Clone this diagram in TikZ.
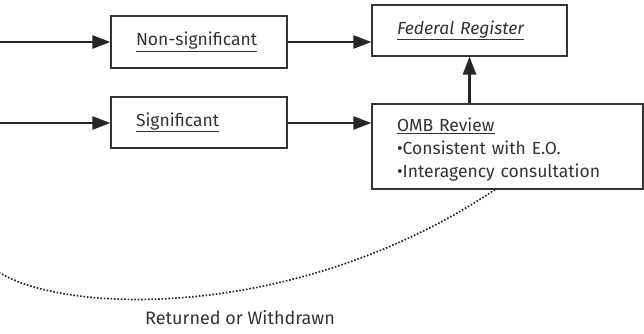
\documentclass[tikz,border=0pt]{standalone}
\usepackage{fontspec}
\setmainfont{Fira Sans}
\usepackage{tikz}
\usetikzlibrary{arrows.meta}
\definecolor{inkgray}{HTML}{333333}

\begin{document}
\begin{tikzpicture}[x=1pt,y=1pt,
  stepbox/.style={draw=inkgray,line width=1.2pt,inner xsep=25pt,inner ysep=0pt,
    align=left,text=inkgray,font=\fontsize{17.5}{23}\selectfont},
  flow/.style={draw=black!85,line width=2.5pt,-{Triangle[length=18pt,width=13pt]}},
  backpath/.style={draw=black!85,line width=1.7pt,dash pattern=on 1.6pt off 1.8pt}]
\useasboundingbox (0,0) rectangle (644,-333);
% boxes
\node [stepbox,minimum width=176pt,minimum height=52pt,text width=126pt] (nonsig) at (199,-42) {\underline{Non-significant}};
\node [stepbox,minimum width=176pt,minimum height=51pt,text width=126pt] (sig) at (199,-122.5) {\underline{Significant}};
\node [stepbox,minimum width=195pt,minimum height=51pt,text width=145pt] (fedreg) at (469.5,-30.5) {\underline{\itshape Federal Register}};
\node [stepbox,minimum width=271pt,minimum height=85pt,text width=221pt] (omb) at (507.5,-146.5)
  {\rule{0pt}{20.5pt}\underline{OMB Review}\\ •Consistent with E.O.\\ •Interagency consultation};
\node [text=inkgray,font=\fontsize{18}{20}\selectfont] (returned) at (240,-318) {Returned or Withdrawn};
% entry points
\coordinate (in1) at (0,-42);
\coordinate (in2) at (0,-123);
\coordinate (out) at (0,-273);
% connectors
\draw [flow] (in1) -- (nonsig.west |- in1);
\draw [flow] (in2) -- (sig.west |- in2);
\draw [flow] (nonsig.east |- in1) -- (fedreg.west |- in1);
\draw [flow] (sig.east |- in2) -- (omb.west |- in2);
\draw [flow] (fedreg.south |- omb.north) -- (fedreg.south);
\draw [backpath] ([xshift=-12.5pt]omb.south) .. controls (300,-320) and (70,-315) .. (out);
\end{tikzpicture}
\end{document}
